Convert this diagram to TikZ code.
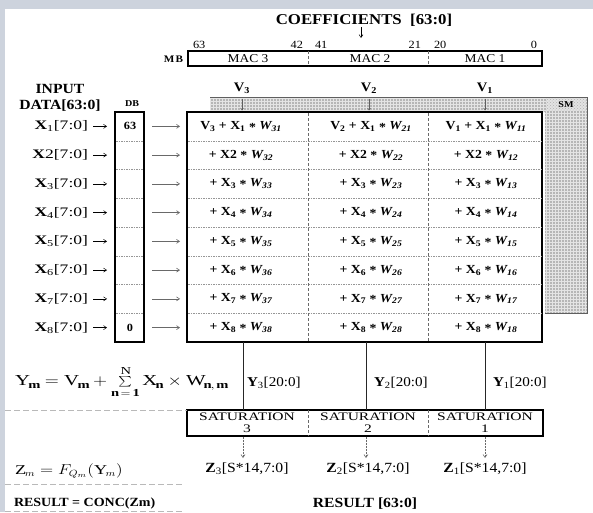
\documentclass[tikz,border=0pt]{standalone}
\usepackage{fontspec}
\usepackage{graphicx}
\setmainfont{Liberation Serif}[FakeStretch=1.12]
\newfontfamily\widefont{Liberation Serif}[FakeStretch=1.35]
\usetikzlibrary{patterns,arrows.meta}

\definecolor{bgblue}{RGB}{205,211,221}
\definecolor{bandgray}{RGB}{182,182,182}
\definecolor{bandlight}{RGB}{228,228,228}
\definecolor{banddark}{RGB}{95,95,95}
\definecolor{divgray}{RGB}{105,105,105}
\definecolor{rowgray}{RGB}{150,150,150}

\tikzset{
  every node/.style={inner sep=0pt, outer sep=0pt},
  boxthick/.style={draw=black, line width=1.8pt, fill=white, rectangle},
  boxmed/.style={draw=black, line width=1.4pt, fill=white, rectangle},
  coldiv/.style={draw=divgray, line width=0.7pt, dash pattern=on 3pt off 2pt},
  rowdiv/.style={draw=rowgray, line width=0.5pt, dash pattern=on 1.5pt off 1pt},
  tinyarrow/.style={draw=black, line width=0.5pt, -{Straight Barb[length=3pt,width=4pt]}},
  grayarrow/.style={draw=divgray, line width=0.6pt, -{Straight Barb[length=3pt,width=4pt]}},
  satarrow/.style={draw=divgray, line width=0.6pt, dash pattern=on 2pt off 1pt, -{Straight Barb[length=3pt,width=4pt]}},
  yline/.style={draw=black!85, line width=0.8pt},
  sepline/.style={draw=gray!55, line width=1pt, dash pattern=on 6pt off 3pt},
  celltext/.style={font=\fontsize{12.3}{14}\selectfont\bfseries},
  xlab/.style={font=\widefont\fontsize{13}{15}\selectfont, anchor=east},
  head/.style={font=\fontsize{14}{16}\selectfont\bfseries},
  bitnum/.style={font=\fontsize{11}{13}\selectfont},
  maclab/.style={font=\fontsize{12}{14}\selectfont},
  vlab/.style={font=\fontsize{13}{15}\selectfont\bfseries},
  ylab/.style={font=\fontsize{13.5}{15}\selectfont, anchor=west},
  zlab/.style={font=\fontsize{14}{15}\selectfont},
  sattext/.style={font=\widefont\fontsize{11.5}{12}\selectfont, align=center},
}
\newcommand{\sbs}[1]{\textsubscript{#1}}
\newcommand{\mul}{\raisebox{-0.3ex}{*}}

\begin{document}
\begin{tikzpicture}[x=1pt,y=-1pt]
\useasboundingbox (0,0) rectangle (593,512);
% background
\fill[bgblue] (0,0) rectangle (593,512);
\fill[white] (5,9) rectangle (593,512);

% coefficients
\node[font=\fontsize{15}{17}\selectfont\bfseries] (coef) at (364,20) {COEFFICIENTS \ [63:0]};
\coordinate (ca1) at (361,27);
\coordinate (ca2) at (361,38);
\draw[tinyarrow] (ca1) -- (ca2);

% MB box
\node[boxmed, minimum width=354pt, minimum height=15pt, anchor=north west] (mb) at (188,51) {};
\draw[coldiv] (308,51) -- (308,66);
\draw[coldiv] (428,51) -- (428,66);
\node[font=\fontsize{10}{12}\selectfont\bfseries, anchor=east] (mblab) at (183,59) {M\kern1pt B};
\node[maclab] (mac3) at (248,59) {MAC 3};
\node[maclab] (mac2) at (370,59) {MAC 2};
\node[maclab] (mac1) at (485,59) {MAC 1};
\node[bitnum, anchor=west] (b63) at (193,45) {63};
\node[bitnum, anchor=east] (b42) at (303,45) {42};
\node[bitnum, anchor=west] (b41) at (315,45) {41};
\node[bitnum, anchor=east] (b21) at (421,45) {21};
\node[bitnum, anchor=west] (b20) at (434,45) {20};
\node[bitnum, anchor=east] (b0) at (537,45) {0};

% input headers
\node[head] (inp) at (60,89) {INPUT};
\node[head] (dat) at (60,106) {DATA[63:0]};
\node[font=\fontsize{9}{11}\selectfont\bfseries] (dblab) at (132,104) {DB};

% V labels
\node[vlab] (v3) at (242,88) {V\sbs{3}};
\node[vlab] (v2) at (369,88) {V\sbs{2}};
\node[vlab] (v1) at (485,88) {V\sbs{1}};

% shaded band
\fill[bandgray] (210,97) -- (587,97) -- (587,313) -- (545,313) -- (545,112) -- (210,112) -- cycle;
\fill[pattern=grid, pattern color=bandlight] (210,97) -- (587,97) -- (587,313) -- (545,313) -- (545,112) -- (210,112) -- cycle;
\fill[gray!22] (546,98) rectangle (586,111);
\fill[pattern=crosshatch dots, pattern color=gray!60] (546,98) rectangle (586,111);
\draw[banddark, line width=0.9pt] (210,97) -- (587,97) -- (587,313) -- (545,313);
\node[font=\fontsize{9}{11}\selectfont\bfseries] (sm) at (566,104.5) {SM};
\foreach \xx/\nm in {242/3,369/2,485/1}{
  \coordinate (va\nm) at (\xx,98.5);
  \coordinate (vb\nm) at (\xx,110.5);
  \draw[draw=banddark, line width=0.5pt, -{Straight Barb[length=2pt,width=3pt]}] (va\nm) -- (vb\nm);
}

% table and DB
\node[boxthick, minimum width=355pt, minimum height=230pt, anchor=north west] (tab) at (187,112) {};
\node[boxthick, minimum width=29pt, minimum height=230pt, anchor=north west] (db) at (115,112) {};
\foreach \i in {1,...,7}{
  \pgfmathsetmacro\yy{112+28.75*\i}
  \draw[rowdiv] (188,\yy) -- (541,\yy);
  \draw[rowdiv] (116,\yy) -- (143,\yy);
}
\draw[coldiv] (308,113) -- (308,341);
\draw[coldiv] (428,113) -- (428,341);

% rows
\foreach \r in {1,...,8}{
  \pgfmathsetmacro\yy{112+28.75*(\r-0.5)}
  \def\xs{\ifnum\r=2 2\else\sbs{\r}\fi}
  \node[xlab] (xl\r) at (88,\yy) {\textbf{X}\xs[7:0]};
  \draw[tinyarrow, shorten <=5pt, shorten >=8pt] (xl\r.east) -- (xl\r.east -| db.west);
  \ifnum\r=1
    \node[celltext] (c3-\r) at (241,\yy) {V\sbs{3} + X\sbs{1} \mul\ \textit{W\sbs{31}}};
    \node[celltext] (c2-\r) at (371,\yy) {V\sbs{2} + X\sbs{1} \mul\ \textit{W\sbs{21}}};
    \node[celltext] (c1-\r) at (486,\yy) {V\sbs{1} + X\sbs{1} \mul\ \textit{W\sbs{11}}};
  \else
    \node[celltext] (c3-\r) at (241,\yy) {+ X\xs\ \mul\ \textit{W\sbs{3\r}}};
    \node[celltext] (c2-\r) at (371,\yy) {+ X\xs\ \mul\ \textit{W\sbs{2\r}}};
    \node[celltext] (c1-\r) at (486,\yy) {+ X\xs\ \mul\ \textit{W\sbs{1\r}}};
  \fi
  \draw[grayarrow, shorten <=8pt, shorten >=7pt] (db.east |- c3-\r) -- (tab.west |- c3-\r);
}
\node[font=\fontsize{11}{13}\selectfont\bfseries] (db63) at (130,126.4) {63};
\node[font=\fontsize{11}{13}\selectfont\bfseries] (db0) at (130,327.6) {0};

% Y lines and labels
\node[boxmed, minimum width=356pt, minimum height=26pt, anchor=north west] (sat) at (187,410) {};
\draw[coldiv] (308,410) -- (308,436);
\draw[coldiv] (428,410) -- (428,436);
\foreach \xx/\nm in {243/3,366/2,485/1}{
  \coordinate (yt\nm) at (\xx,342);
  \draw[yline] (yt\nm) -- (yt\nm |- sat.north);
  \coordinate (za\nm) at (\xx,436.5);
  \coordinate (zb\nm) at (\xx,458);
  \draw[satarrow] (za\nm) -- (zb\nm);
}
\node[ylab] (y3) at (247,383) {\textbf{Y}\sbs{3}[20:0]};
\node[ylab] (y2) at (374,383) {\textbf{Y}\sbs{2}[20:0]};
\node[ylab] (y1) at (493,383) {\textbf{Y}\sbs{1}[20:0]};
\node[sattext] (s3) at (247,423) {SATURATION\\3};
\node[sattext] (s2) at (368,423) {SATURATION\\2};
\node[sattext] (s1) at (485,423) {SATURATION\\1};
\node[zlab] (z3) at (247,469) {\textbf{Z}\sbs{3}[S*14,7:0]};
\node[zlab] (z2) at (368,469) {\textbf{Z}\sbs{2}[S*14,7:0]};
\node[zlab] (z1) at (485,469) {\textbf{Z}\sbs{1}[S*14,7:0]};

% formulas
\node[font=\fontsize{14.5}{16}\selectfont, anchor=west] (fy) at (15,382)
  {\scalebox{1.28}[1.05]{$\mathrm{Y}_{\mathbf{m}} = \mathrm{V}_{\mathbf{m}} + \sum\limits_{\mathbf{n\,=\,1}}^{\mathrm{N}} \mathrm{X}_{\mathbf{n}} \times \mathrm{W}_{\mathbf{n,\,m}}$}};
\node[font=\fontsize{13.5}{15}\selectfont, anchor=west] (fz) at (15,471)
  {\scalebox{1.2}[1]{$\mathrm{Z}_m = F_{Q_m}(\mathrm{Y}_m)$}};
\node[font=\fontsize{12.5}{13}\selectfont\bfseries, anchor=west] (res) at (14,503) {RESULT = CONC(Zm)};
\node[font=\fontsize{14}{16}\selectfont\bfseries] (resout) at (365,504) {RESULT [63:0]};

% separators
\coordinate (s1a) at (5,410);
\coordinate (s2a) at (5,484);
\coordinate (s2b) at (183,484);
\coordinate (s3a) at (5,511);
\coordinate (s3b) at (183,511);
\draw[sepline] (s1a) -- (sat.north west);
\draw[sepline] (s2a) -- (s2b);
\draw[sepline] (s3a) -- (s3b);
\end{tikzpicture}
\end{document}
